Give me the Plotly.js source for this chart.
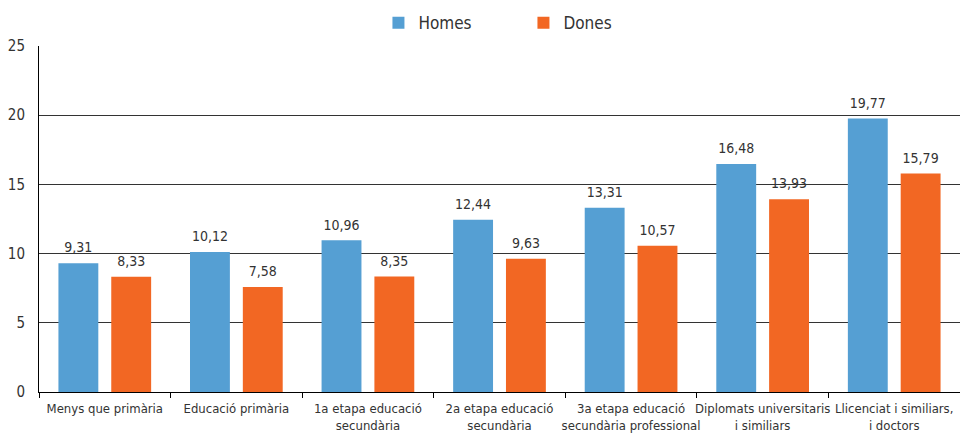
<!DOCTYPE html>
<html>
<head>
<meta charset="utf-8">
<script src="https://cdn.plot.ly/plotly-3.0.1.min.js"></script>
<style>html,body{margin:0;padding:0;background:#fff;}#chart{width:960px;height:435px;}</style>
</head>
<body>
<div id="chart"></div>
<script>
const categories = [
  "Menys que primària",
  "Educació primària",
  "1a etapa educació<br>secundària",
  "2a etapa educació<br>secundària",
  "3a etapa educació<br>secundària professional",
  "Diplomats universitaris<br>i similiars",
  "Llicenciat i similiars,<br>i doctors"
];
const homes = [9.31, 10.12, 10.96, 12.44, 13.31, 16.48, 19.77];
const dones = [8.33, 7.58, 8.35, 9.63, 10.57, 13.93, 15.79];
const seriesNames = ["Homes", "Dones"];
const yTicks = [0, 5, 10, 15, 20, 25];

const FONT = "'DejaVu Sans Condensed', 'DejaVu Sans', sans-serif";
const mk = (size) => ({family: FONT, size: size, color: '#333', stretch: 'condensed'});
const colors = ['#559fd3', '#f26723'];
const values = [homes, dones];

const traces = [];
values.forEach((vals, i) => {
  traces.push({type: 'bar', name: seriesNames[i], x: categories, y: vals,
    marker: {color: colors[i]}, hoverinfo: 'none'});
});
values.forEach((vals, i) => {
  traces.push({type: 'scatter', mode: 'markers+text', showlegend: false,
    x: categories, y: vals, text: vals.map(v => v.toFixed(2).replace('.', ',')),
    textposition: 'top center', textfont: mk(14),
    marker: {size: 10, opacity: 0, color: colors[i]},
    cliponaxis: false, hoverinfo: 'none'});
});

const layout = {
  width: 960, height: 435,
  margin: {l: 39, r: 0, t: 46, b: 43},
  paper_bgcolor: '#fff', plot_bgcolor: '#fff',
  separators: ',.',
  font: mk(14),
  barmode: 'group', bargap: 0.197, bargroupgap: 0.245,
  scattermode: 'group', scattergap: 0.197,
  showlegend: true,
  legend: {orientation: 'h', x: 0.526, xref: 'paper', xanchor: 'center', y: 1.014, yanchor: 'bottom',
           font: mk(17), entrywidth: 100, itemwidth: 30,
           traceorder: 'normal'},
  xaxis: {
    tickvals: categories, ticktext: categories, tickangle: 0,
    showline: true, linecolor: '#000', linewidth: 1,
    ticks: 'outside', tickson: 'boundaries', ticklen: 5, tickcolor: '#000',
    tickfont: mk(13), ticklabelstandoff: 4,
    showgrid: false, zeroline: false, fixedrange: true
  },
  yaxis: {
    range: [0, 25], tickvals: yTicks, ticktext: yTicks.map(String),
    showline: true, linecolor: '#000', linewidth: 1,
    showgrid: true, gridcolor: '#333', gridwidth: 1,
    ticks: 'outside', ticklen: 10, tickcolor: 'rgba(0,0,0,0)',
    tickfont: mk(15),
    zeroline: false, fixedrange: true
  }
};

Plotly.newPlot('chart', traces, layout, {displayModeBar: false, staticPlot: true});
</script>
</body>
</html>
